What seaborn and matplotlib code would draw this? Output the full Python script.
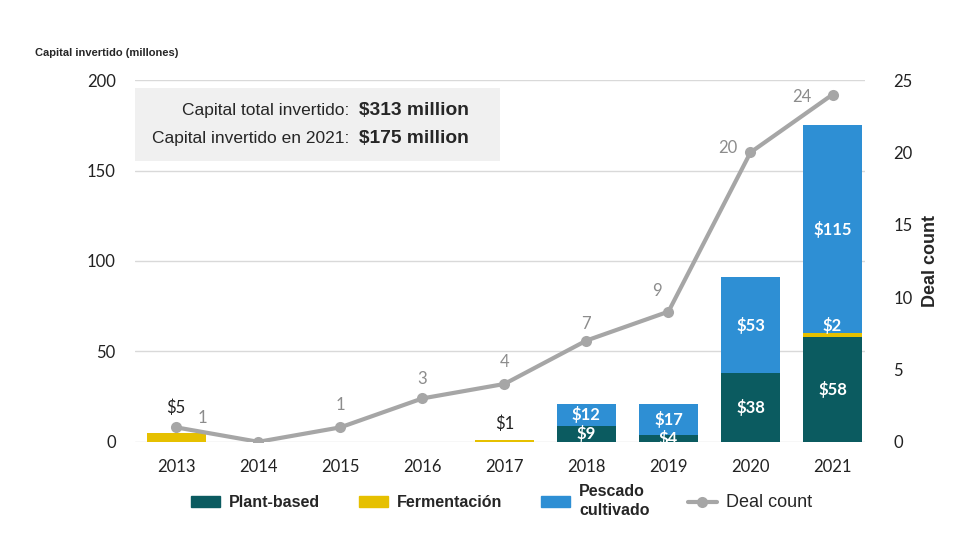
import matplotlib
matplotlib.use("Agg")
import matplotlib.pyplot as plt
import matplotlib.patches as mpatches
from matplotlib.lines import Line2D
import numpy as np
import seaborn as sns

years = ["2013", "2014", "2015", "2016", "2017", "2018", "2019", "2020", "2021"]
plant_based = [0, 0, 0, 0, 0, 9, 4, 38, 58]
fermentacion = [5, 0, 0, 0, 1, 0, 0, 0, 2]
pescado_cultivado = [0, 0, 0, 0, 0, 12, 17, 53, 115]
deal_count = [1, 0, 1, 3, 4, 7, 9, 20, 24]

TEAL = "#0b5b60"
YELLOW = "#e6c000"
BLUE = "#2e8fd4"
GREY = "#a6a6a6"

sns.set_theme(style="white")
plt.rcParams["font.family"] = ["Lato", "DejaVu Sans"]

fig = plt.figure(figsize=(9.8, 5.6), dpi=100)
ax = fig.add_axes([0.138, 0.211, 0.745, 0.646])

plant = np.array(plant_based)
ferm = np.array(fermentacion)
cult = np.array(pescado_cultivado)

bar_kw = dict(ax=ax, order=years, width=0.72, saturation=1, linewidth=0)
sns.barplot(x=years, y=plant, color=TEAL, **bar_kw)
sns.barplot(x=years, y=ferm, color=YELLOW, bottom=plant, **bar_kw)
sns.barplot(x=years, y=cult, color=BLUE, bottom=plant + ferm, **bar_kw)

ax.set_ylim(0, 200)
ax.set_xlim(-0.5, 8.4)
ax.set_yticks([0, 50, 100, 150, 200])
ax.yaxis.grid(True, color="#d9d9d9", linewidth=1)
ax.set_axisbelow(True)
for s in ax.spines.values():
    s.set_visible(False)
ax.tick_params(axis="both", length=0, labelsize=12, colors="#222222")
ax.tick_params(axis="y", pad=14)
ax.tick_params(axis="x", pad=12)
ax.set_xlabel("")
ax.set_ylabel("")

# bar labels
lbl = dict(ha="center", va="center", color="white", fontsize=12, fontweight="bold")
for i in range(len(years)):
    if plant[i] > 0:
        ax.text(i, plant[i] / 2, f"${plant[i]}", **lbl)
    if cult[i] > 0:
        ax.text(i, plant[i] + ferm[i] + cult[i] / 2, f"${cult[i]}", **lbl)
    if ferm[i] > 0:
        if plant[i] == 0 and cult[i] == 0:
            ax.text(i, ferm[i] + (14 if ferm[i] > 2 else 9), f"${ferm[i]}",
                    ha="center", va="center", color="#222222", fontsize=12)
        else:
            ax.text(i, plant[i] + ferm[i] + 4.5, f"${ferm[i]}", **lbl)

# deal count line
ax2 = ax.twinx()
sns.lineplot(x=np.arange(len(years)), y=deal_count, ax=ax2, color=GREY,
             linewidth=3, marker="o", markersize=8, markeredgewidth=0)
ax2.set_ylim(0, 25)
ax2.set_yticks([0, 5, 10, 15, 20, 25])
for s in ax2.spines.values():
    s.set_visible(False)
ax2.tick_params(axis="y", length=0, labelsize=12, colors="#222222", pad=20)
ax2.set_ylabel("Deal count", fontsize=13, fontweight="bold",
               family=["Liberation Sans"], labelpad=7)
ax2.set_xlim(-0.5, 8.4)

offsets = [(19, 7), None, (0, 16), (0, 14), (0, 16), (0, 12), (-8, 15), (-16, 3), (-22, -2)]
for i, n in enumerate(deal_count):
    if offsets[i] is None:
        continue
    ax2.annotate(str(n), (i, n), xytext=offsets[i], textcoords="offset points",
                 ha="center", va="center", color="#8c8c8c", fontsize=12)

# summary box
fig.patches.append(mpatches.Rectangle((0.138, 0.713), 0.372, 0.129,
                                      transform=fig.transFigure,
                                      facecolor="#f0f0f0", edgecolor="none", zorder=0))
box_font = ["Liberation Sans", "DejaVu Sans"]
fig.text(0.357, 0.802, "Capital total invertido:", ha="right", va="center",
         fontsize=12.5, family=box_font)
fig.text(0.366, 0.802, "$313 million", ha="left", va="center",
         fontsize=13.8, fontweight="bold", family=box_font)
fig.text(0.357, 0.752, "Capital invertido en 2021:", ha="right", va="center",
         fontsize=12.5, family=box_font)
fig.text(0.366, 0.752, "$175 million", ha="left", va="center",
         fontsize=13.8, fontweight="bold", family=box_font)

fig.text(0.036, 0.905, "Capital invertido (millones)", ha="left", va="center",
         fontsize=8, fontweight="bold", family=box_font)

# legend
handles = [
    mpatches.Patch(color=TEAL, label="Plant-based"),
    mpatches.Patch(color=YELLOW, label="Fermentación"),
    mpatches.Patch(color=BLUE, label="Pescado\ncultivado"),
    Line2D([0], [0], color=GREY, linewidth=3, marker="o", markersize=8,
           markeredgewidth=0, label="Deal count"),
]
leg = fig.legend(handles=handles, loc="center", bbox_to_anchor=(0.512, 0.105),
                 ncol=4, frameon=False, handlelength=1.8, handleheight=0.6,
                 columnspacing=2.4, handletextpad=0.6,
                 prop={"family": box_font, "weight": "bold", "size": 11.5})
leg.get_texts()[2].set_linespacing(1.3)
leg.get_texts()[3].set_fontweight("normal")
leg.get_texts()[3].set_fontsize(13)

fig.savefig("out.png", dpi=100)
